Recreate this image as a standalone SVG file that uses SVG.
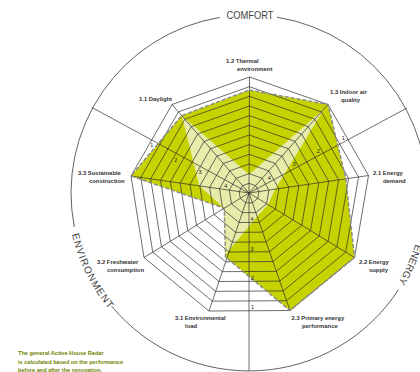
<svg xmlns="http://www.w3.org/2000/svg" width="420" height="372" viewBox="0 0 420 372">
<style>
  .ring{fill:none;stroke:#2e2e2e;stroke-width:0.7;vector-effect:non-scaling-stroke}
  .spoke{fill:none;stroke:#2e2e2e;stroke-width:0.7}
  .circ{fill:none;stroke:#3a3a3a;stroke-width:0.8}
  .after{fill:#c6d300;stroke:none}
  .before{fill:#e8ecaa;stroke:none}
  .outline{fill:none;stroke:#8c8c8c;stroke-width:1.5;stroke-dasharray:4 2}
  .lbl{font-family:"Liberation Sans",Arial,sans-serif;font-size:5.9px;font-weight:bold;fill:#333}
  .tick{font-family:"Liberation Sans",Arial,sans-serif;font-size:5.5px;fill:#222;text-anchor:middle}
  .cat{font-family:"Liberation Sans",Arial,sans-serif;font-size:10px;fill:#444}
  .note{font-family:"Liberation Sans",Arial,sans-serif;font-size:5.6px;font-weight:bold;fill:#6f8400}
</style>
<defs>
  <polygon id="web" class="ring" points="0.5,-116 79,-88.5 119.5,-17.5 105.5,64.5 41,117.5 -40,118 -105,64.5 -118,-17 -77,-88.5"/>
  <path id="pEnergy" d="M420.9,220.2 A174,174 0 0 1 384.2,302.5"/>
  <path id="pEnv" d="M70.9,229.3 A181.8,181.8 0 0 0 112.8,313.5"/>
</defs>

<g id="fills">
  <polygon id="after" class="after" points="249.4,90 328,104.5 345.8,178.8 354.5,257.5 290,310.5 225.5,257 224.3,208.2 131,176 181.7,115.6"/>
  <polygon id="before" class="before" points="249.1,174.4 324,108.9 275.3,189.1 268,204.6 257.2,216.5 226,254 224.3,208.2 199.4,185.9 181.7,115.6"/>
</g>

<g id="connectors">
  <g id="rings">
    <use href="#web" transform="translate(249 193) scale(0.08333)"/>
    <use href="#web" transform="translate(249 193) scale(0.16667)"/>
    <use href="#web" transform="translate(249 193) scale(0.25)"/>
    <use href="#web" transform="translate(249 193) scale(0.33333)"/>
    <use href="#web" transform="translate(249 193) scale(0.41667)"/>
    <use href="#web" transform="translate(249 193) scale(0.5)"/>
    <use href="#web" transform="translate(249 193) scale(0.58333)"/>
    <use href="#web" transform="translate(249 193) scale(0.66667)"/>
    <use href="#web" transform="translate(249 193) scale(0.75)"/>
    <use href="#web" transform="translate(249 193) scale(0.83333)"/>
    <use href="#web" transform="translate(249 193) scale(0.91667)"/>
    <use href="#web" transform="translate(249 193)"/>
  </g>
  <g id="axes" class="spoke">
    <line x1="249" y1="193" x2="249.5" y2="77"/>
    <line x1="249" y1="193" x2="328" y2="104.5"/>
    <line x1="249" y1="193" x2="368.5" y2="175.5"/>
    <line x1="249" y1="193" x2="354.5" y2="257.5"/>
    <line x1="249" y1="193" x2="290" y2="310.5"/>
    <line x1="249" y1="193" x2="209" y2="311"/>
    <line x1="249" y1="193" x2="144" y2="257.5"/>
    <line x1="249" y1="193" x2="131" y2="176"/>
    <line x1="249" y1="193" x2="172" y2="104.5"/>
  </g>
  <g id="dividers" class="spoke">
    <line x1="249" y1="193" x2="407" y2="108"/>
    <line x1="249" y1="193" x2="91.7" y2="107.3"/>
    <line x1="249" y1="193" x2="249" y2="371"/>
  </g>
  <polygon id="after-outline" class="outline" points="249.4,90 328,104.5 345.8,178.8 354.5,257.5 290,310.5 225.5,257 224.3,208.2 131,176 181.7,115.6"/>
  <g id="circle" class="circ">
    <path d="M277,17.2 A178,178 0 0 1 421.7,236.1"/>
    <path d="M398.3,289.9 A178,178 0 0 1 111.7,306.2"/>
    <path d="M74.3,227 A178,178 0 0 1 219.9,17.4"/>
  </g>
</g>

<g id="scale">
  <text class="tick" x="252.5" y="309">1</text>
  <text class="tick" x="252.5" y="280">2</text>
  <text class="tick" x="252" y="251">3</text>
  <text class="tick" x="252" y="221">4</text>
  <text class="tick" x="343.3" y="139.6">1</text>
  <text class="tick" x="318.3" y="152.9">2</text>
  <text class="tick" x="294" y="166.2">3</text>
  <text class="tick" x="269.3" y="180.2">4</text>
  <text class="tick" x="151.7" y="147">1</text>
  <text class="tick" x="175.7" y="161.8">2</text>
  <text class="tick" x="200" y="174">3</text>
  <text class="tick" x="225.7" y="188">4</text>
</g>

<g id="n11"><text class="lbl" x="139" y="100.5">1.1 Daylight</text></g>
<g id="n12"><text class="lbl" x="226" y="63">1.2 Thermal</text><text class="lbl" x="237" y="70.5">environment</text></g>
<g id="n13"><text class="lbl" x="330" y="94">1.3 Indoor air</text><text class="lbl" x="341" y="101.5">quality</text></g>
<g id="n21"><text class="lbl" x="373" y="175">2.1 Energy</text><text class="lbl" x="383" y="182.5">demand</text></g>
<g id="n22"><text class="lbl" x="359" y="264">2.2 Energy</text><text class="lbl" x="369" y="271.5">supply</text></g>
<g id="n23"><text class="lbl" x="291.5" y="320">2.3 Primary energy</text><text class="lbl" x="302" y="327.5">performance</text></g>
<g id="n31"><text class="lbl" x="175" y="320">3.1 Environmental</text><text class="lbl" x="185" y="327.5">load</text></g>
<g id="n32"><text class="lbl" x="97" y="264">3.2 Freshwater</text><text class="lbl" x="107" y="271.5">consumption</text></g>
<g id="n33"><text class="lbl" x="78" y="175">3.3 Sustainable</text><text class="lbl" x="89" y="182.5">construction</text></g>

<g id="categories">
  <text class="cat" x="250" y="19" text-anchor="middle" textLength="47" lengthAdjust="spacingAndGlyphs">COMFORT</text>
  <text class="cat" text-anchor="middle"><textPath href="#pEnergy" startOffset="50%">ENERGY</textPath></text>
  <text class="cat" text-anchor="middle" letter-spacing="1"><textPath href="#pEnv" startOffset="50%">ENVIRONMENT</textPath></text>
</g>

<g id="footnote">
  <text class="note" x="18" y="355">The general Active House Radar</text>
  <text class="note" x="18" y="363.5">is calculated based on the performance</text>
  <text class="note" x="18" y="372">before and after the renovation.</text>
</g>
</svg>
